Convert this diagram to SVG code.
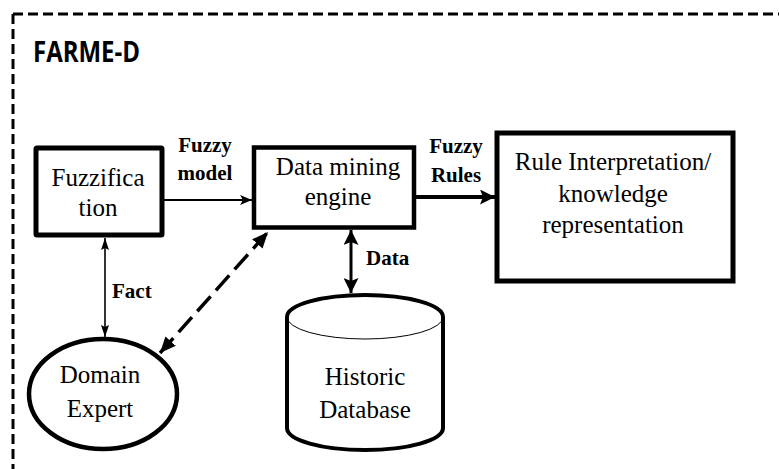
<svg xmlns="http://www.w3.org/2000/svg" width="779" height="469" viewBox="0 0 779 469">
  <style>
    .node { fill: #fff; stroke: #000; }
    .lbl { font-family: "Liberation Serif", "Times New Roman", serif; font-size: 25px; fill: #000; text-anchor: middle; }
    .clbl { font-family: "Liberation Serif", "Times New Roman", serif; font-size: 21px; font-weight: bold; fill: #000; }
    .frame { fill: none; stroke: #000; stroke-width: 3; stroke-dasharray: 10 5; }
    .link { fill: none; stroke: #000; }
  </style>
  <defs>
    <marker id="headSmall" markerUnits="userSpaceOnUse" viewBox="0 0 12 10" refX="12" refY="5" markerWidth="12" markerHeight="10" orient="auto-start-reverse">
      <path d="M0,0 L12,5 L0,10 L3,5 Z" fill="#000"/>
    </marker>
    <marker id="headThin" markerUnits="userSpaceOnUse" viewBox="0 0 12 8" refX="12" refY="4" markerWidth="12" markerHeight="8" orient="auto-start-reverse">
      <path d="M0,0 L12,4 L0,8 L2,4 Z" fill="#000"/>
    </marker>
    <marker id="headBig" markerUnits="userSpaceOnUse" viewBox="0 0 15 15" refX="15" refY="7.5" markerWidth="15" markerHeight="15" orient="auto-start-reverse">
      <path d="M0,0 L15,7.5 L0,15 L3,7.5 Z" fill="#000"/>
    </marker>
    <marker id="headDash" markerUnits="userSpaceOnUse" viewBox="0 0 16 14" refX="16" refY="7" markerWidth="16" markerHeight="14" orient="auto-start-reverse">
      <path d="M0,0 L16,7 L0,14 Z" fill="#000"/>
    </marker>
  </defs>

  <rect width="779" height="469" fill="#fff"/>

  <!-- system boundary -->
  <g id="frame">
    <path class="frame" d="M13,14 H779"/>
    <path class="frame" d="M13,14 V469"/>
    <text x="33" y="62" font-family="'Open Sans', 'Liberation Sans', sans-serif" font-size="28" font-weight="bold" textLength="107" lengthAdjust="spacingAndGlyphs">FARME-D</text>
  </g>

  <!-- connectors -->
  <g id="connectors">
    <line class="link" x1="164" y1="200" x2="252" y2="200" stroke-width="2" marker-end="url(#headSmall)"/>
    <text class="clbl" x="205" y="152" text-anchor="middle">Fuzzy</text>
    <text class="clbl" x="205" y="180" text-anchor="middle">model</text>

    <line class="link" x1="416" y1="197" x2="495" y2="197" stroke-width="4" marker-end="url(#headBig)"/>
    <text class="clbl" x="456" y="153" text-anchor="middle">Fuzzy</text>
    <text class="clbl" x="456" y="182" text-anchor="middle">Rules</text>

    <line class="link" x1="351" y1="230" x2="351" y2="293" stroke-width="3" marker-start="url(#headBig)" marker-end="url(#headBig)"/>
    <text class="clbl" x="366" y="265">Data</text>

    <line class="link" x1="105" y1="238" x2="105" y2="337" stroke-width="1.6" marker-start="url(#headThin)" marker-end="url(#headThin)"/>
    <text class="clbl" x="112" y="298">Fact</text>

    <line class="link" x1="160" y1="353" x2="268" y2="232" stroke-width="3.5" stroke-dasharray="20 8" marker-start="url(#headDash)" marker-end="url(#headDash)"/>
  </g>

  <!-- nodes -->
  <g id="fuzzification">
    <rect class="node" x="36" y="148" width="126" height="87" stroke-width="5" rx="1"/>
    <text class="lbl" x="98" y="186">Fuzzifica</text>
    <text class="lbl" x="98" y="216">tion</text>
  </g>

  <g id="data-mining-engine">
    <rect class="node" x="254" y="147.5" width="160" height="80" stroke-width="4.5"/>
    <text class="lbl" x="338" y="175">Data mining</text>
    <text class="lbl" x="338" y="205">engine</text>
  </g>

  <g id="rule-interpretation">
    <rect class="node" x="497" y="133" width="236" height="148" stroke-width="5"/>
    <text class="lbl" x="613" y="170">Rule Interpretation/</text>
    <text class="lbl" x="613" y="202">knowledge</text>
    <text class="lbl" x="613" y="233">representation</text>
  </g>

  <g id="domain-expert">
    <ellipse class="node" cx="103" cy="394" rx="74" ry="55" stroke-width="4.5"/>
    <text class="lbl" x="100" y="383">Domain</text>
    <text class="lbl" x="100" y="417">Expert</text>
  </g>

  <g id="historic-database">
    <path class="node" d="M287,317 A78,22 0 0 1 443,317 L443,428 A78,22 0 0 1 287,428 Z" stroke-width="4"/>
    <path class="link" d="M287,317 A78,22 0 0 0 443,317" stroke-width="1"/>
    <text class="lbl" x="365" y="385">Historic</text>
    <text class="lbl" x="365" y="418">Database</text>
  </g>
</svg>
